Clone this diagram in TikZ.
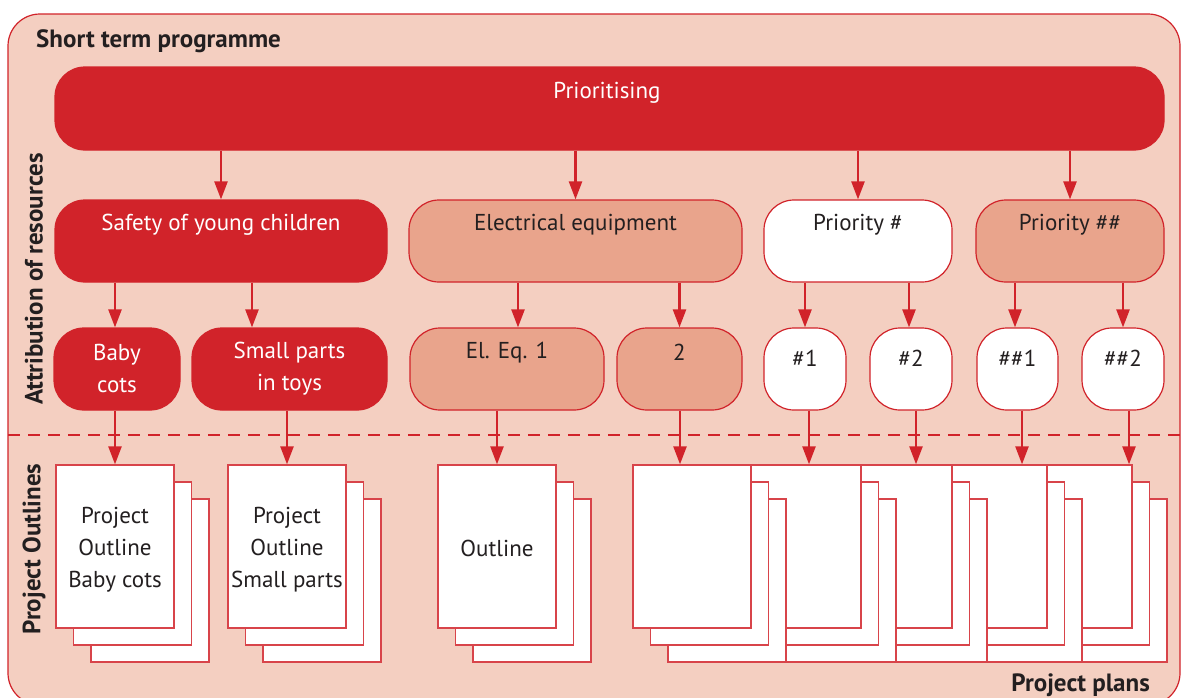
\documentclass[tikz,border=0pt]{standalone}
\usepackage{fontspec}
\setmainfont{PT Sans}
\usetikzlibrary{arrows.meta,calc}
\definecolor{bgpink}{HTML}{F4CFC1}
\definecolor{mred}{HTML}{D1232A}
\definecolor{salmon}{HTML}{E9A48C}
\definecolor{dtext}{HTML}{231F20}
\begin{document}
\begin{tikzpicture}[x=1pt,y=-1pt,
  txt/.style={font=\fontsize{23}{32}\selectfont, text=dtext, inner sep=0pt},
  wtxt/.style={txt, text=white},
  btxt/.style={font=\bfseries\fontsize{25}{28}\selectfont, text=dtext, inner sep=0pt},
  rbox/.style={rectangle, rounded corners=30pt, draw=mred, line width=1.2pt, inner sep=0pt, minimum height=82pt},
  redbox/.style={rbox, fill=mred},
  salbox/.style={rbox, fill=salmon},
  whbox/.style={rbox, fill=white},
  page/.style={rectangle, draw=mred!85!white, line width=1.3pt, fill=white, minimum width=118pt, minimum height=163pt, inner sep=0pt},
  arr/.style={draw=mred, line width=2.4pt, -{Triangle[width=13pt,length=18pt]}},
  divline/.style={draw=mred, line width=2pt, dash pattern=on 12pt off 8pt}
]
\useasboundingbox (0,0) rectangle (1186,697);
\clip (0,0) rectangle (1186,697);
% outer frame
\draw[draw=mred, line width=1.2pt, fill=bgpink, rounded corners=32pt] (8,14) rectangle (1180,705);
\node[btxt, anchor=west] (title) at (36,41) {Short term programme};
\draw[divline] (8,435) -- (1180,435);
\node[btxt, rotate=90] (attr) at (34,279) {Attribution of resources};
\node[btxt, rotate=90] (outl) at (34,549) {Project Outlines};
\node[btxt, anchor=east] (plans) at (1150,685) {Project plans};

% top bar
\node[redbox, minimum width=1109pt, minimum height=83pt] (prio) at (609.5,108.5) {};
\node[wtxt] (priot) at (607,92.5) {Prioritising};

% level 2
\node[redbox, minimum width=332pt] (safety) at (221,241) {};
\node[salbox, minimum width=333pt] (elec) at (575.5,241) {};
\node[whbox, minimum width=188pt] (pa) at (858,241) {};
\node[salbox, minimum width=188pt] (pb) at (1070,241) {};
\node[wtxt] at ($(safety.north)+(0,25)$) {Safety of young children};
\node[txt] at ($(elec.north)+(0,25)$) {Electrical equipment};
\node[txt] at ($(pa.north)+(0,25.5)$) {Priority \#};
\node[txt] at ($(pb.north)+(0,25.5)$) {Priority \#\#};

% level 3
\node[redbox, minimum width=126pt] (bc) at (117,369) {};
\node[redbox, minimum width=195pt] (sp) at (289.5,369) {};
\node[salbox, minimum width=194pt] (ea) at (507,369) {};
\node[salbox, minimum width=125pt] (eb) at (679.5,369) {};
\node[whbox, minimum width=82pt] (ha) at (805,369) {};
\node[whbox, minimum width=82pt] (hb) at (911,369) {};
\node[whbox, minimum width=81pt] (hha) at (1017.5,369) {};
\node[whbox, minimum width=82pt] (hhb) at (1123,369) {};
\node[wtxt, align=center] at ($(bc.north)+(0,41)$) {Baby\\cots};
\node[wtxt, align=center] at ($(sp.north)+(0,41)$) {Small parts\\in toys};
\node[txt] at ($(ea.north)+(0,25)$) {El. Eq. 1};
\node[txt] at ($(eb.north)+(0,25)$) {2};
\node[txt] at ($(ha.north)+(0,31)$) {\#1};
\node[txt] at ($(hb.north)+(0,31)$) {\#2};
\node[txt] at ($(hha.north)+(0,31)$) {\#\#1};
\node[txt] at ($(hhb.north)+(0,31)$) {\#\#2};

% project outline pages
\foreach \n/\cx in {bcp/115, spp/287, olp/497}{
  \node[page] (\n c) at (\cx+35,580.5) {};
  \node[page] (\n b) at (\cx+17.5,563.5) {};
}
\node[page] (bcp) at (115,546.5) {};
\node[page] (spp) at (287,546.5) {};
\node[page] (olp) at (497,546.5) {};
\node[txt, align=center] at ($(bcp.center)+(0,3.5)$) {Project\\Outline\\Baby cots};
\node[txt, align=center] at ($(spp.center)+(0,3.5)$) {Project\\Outline\\Small parts};
\node[txt] at ($(olp.center)+(0,2)$) {Outline};

% project plan stacks (right-most at bottom)
\foreach \n/\cx in {ppe/1073, ppd/988, ppc/893, ppb/802, ppa/692}{
  \node[page] (\n c) at (\cx+35,580.5) {};
  \node[page] (\n b) at (\cx+17.5,563.5) {};
  \node[page] (\n) at (\cx,546.5) {};
}

% arrow x positions
\coordinate (x252) at (252,0);
\coordinate (x518) at (518,0);
\coordinate (x909) at (909,0);
\coordinate (x1015) at (1015,0);
\coordinate (x809) at (809,0);
\coordinate (x916) at (916,0);
\coordinate (x1022) at (1022,0);
\coordinate (x1129) at (1129,0);
\coordinate (x680) at (680,0);

% arrows level 1 -> 2
\draw[arr] (prio.south -| safety.north) -- (safety.north);
\draw[arr] (prio.south -| elec.north) -- (elec.north);
\draw[arr] (prio.south -| pa.north) -- (pa.north);
\draw[arr] (prio.south -| pb.north) -- (pb.north);
% arrows level 2 -> 3
\draw[arr] (safety.south -| bcp.north) -- (bc.north -| bcp.north);
\draw[arr] (safety.south -| x252) -- (sp.north -| x252);
\draw[arr] (elec.south -| x518) -- (ea.north -| x518);
\draw[arr] (elec.south -| eb.north) -- (eb.north);
\draw[arr] (pa.south -| ha.north) -- (ha.north);
\draw[arr] (pa.south -| x909) -- (hb.north -| x909);
\draw[arr] (pb.south -| x1015) -- (hha.north -| x1015);
\draw[arr] (pb.south -| hhb.north) -- (hhb.north);
% arrows level 3 -> pages
\draw[arr] (bc.south -| bcp.north) -- (bcp.north);
\draw[arr] (sp.south -| spp.north) -- (spp.north);
\draw[arr] (ea.south -| olp.north) -- (olp.north);
\draw[arr] (eb.south -| x680) -- (ppa.north -| x680);
\draw[arr] (ha.south -| x809) -- (ppb.north -| x809);
\draw[arr] (hb.south -| x916) -- (ppc.north -| x916);
\draw[arr] (hha.south -| x1022) -- (ppd.north -| x1022);
\draw[arr] (hhb.south -| x1129) -- (ppe.north -| x1129);
\end{tikzpicture}
\end{document}
